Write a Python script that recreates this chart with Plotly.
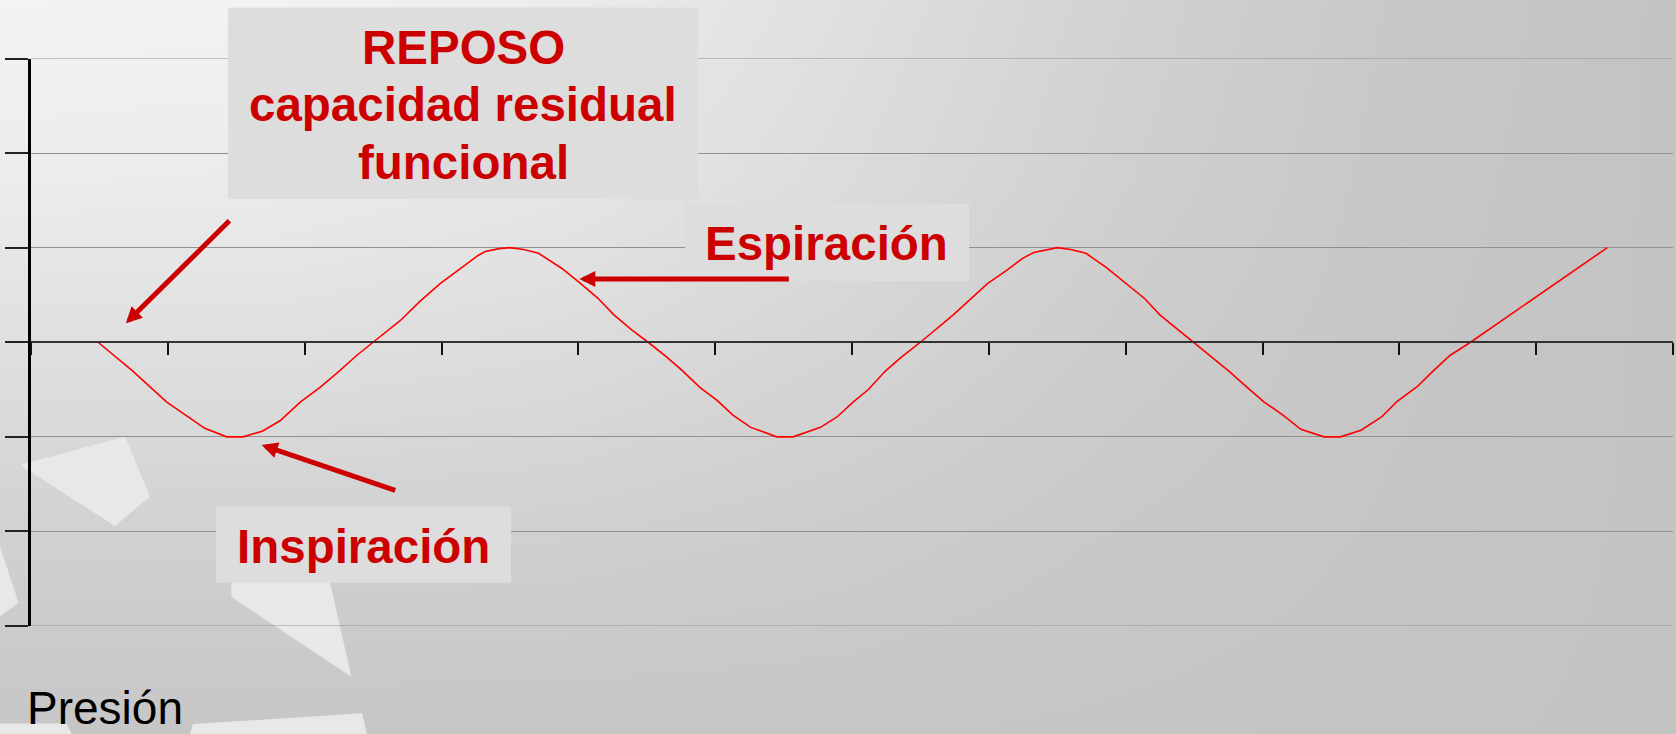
import base64
import struct
import zlib

import numpy as np
import plotly.graph_objects as go

# ---------------------------------------------------------------------------
# Data: breathing curve (pressure oscillation around the resting level)
# ---------------------------------------------------------------------------
t = [0.49, 0.74, 0.99, 1.27, 1.43, 1.55, 1.69, 1.82, 1.97, 2.11, 2.24, 2.38,
     2.50, 2.70, 2.84, 2.99, 3.14, 3.27, 3.32, 3.42, 3.50, 3.60, 3.71, 3.88,
     4.00, 4.14, 4.26, 4.39, 4.51, 4.64, 4.76, 4.89, 5.01, 5.13, 5.26, 5.45,
     5.57, 5.77, 5.89, 6.01, 6.12, 6.24, 6.35, 6.50, 6.74, 6.99, 7.13, 7.25,
     7.33, 7.50, 7.60, 7.71, 7.86, 8.01, 8.14, 8.25, 8.50, 8.75, 8.89, 9.01,
     9.15, 9.28, 9.45, 9.57, 9.72, 9.87, 9.98, 10.13, 10.25, 10.37, 10.52,
     11.52]
presion = [0.00, -0.30, -0.63, -0.91, -1.00, -1.00, -0.94, -0.83, -0.63,
           -0.48, -0.32, -0.14, 0.00, 0.23, 0.43, 0.62, 0.78, 0.92, 0.96,
           0.99, 1.00, 0.98, 0.94, 0.78, 0.64, 0.47, 0.29, 0.13, 0.00, -0.15,
           -0.30, -0.48, -0.61, -0.77, -0.90, -1.00, -1.00, -0.90, -0.79,
           -0.63, -0.50, -0.31, -0.17, 0.00, 0.29, 0.62, 0.76, 0.89, 0.95,
           1.00, 0.98, 0.94, 0.79, 0.61, 0.46, 0.29, 0.00, -0.30, -0.48,
           -0.63, -0.77, -0.92, -1.00, -1.00, -0.93, -0.79, -0.63, -0.47,
           -0.30, -0.14, 0.00, 1.00]

x_ticks = list(range(0, 13))
y_ticks = list(range(-3, 4))
X_RANGE = [0, 12]
Y_RANGE = [-3, 3]

# Labels
titulo_lineas = ["REPOSO", "capacidad residual", "funcional"]
etiqueta_esp = "Espiración"
etiqueta_insp = "Inspiración"
etiqueta_eje = "Presión"

# ---------------------------------------------------------------------------
# Page geometry (pixels)
# ---------------------------------------------------------------------------
W, H = 1676, 734
PX_L, PX_R = 31, 1673          # plot area left/right
PX_T, PX_B = 58.5, 626         # plot area top/bottom


def px(x):
    return x / W


def py(y):
    return 1 - y / H


RED = "#cc0000"
GRID = "#909090"
FONT = "Liberation Sans, Arial, Helvetica, sans-serif"

# ---------------------------------------------------------------------------
# Soft grey backdrop rendered into a small PNG
# ---------------------------------------------------------------------------
BG_XS = [0, 280, 560, 840, 1120, 1400, 1676]
BG_YS = [0, 183, 367, 550, 734]
BG_LEVELS = [
    [243, 242, 236, 224, 210, 200, 195],
    [236, 235, 230, 220, 208, 199, 195],
    [222, 222, 219, 212, 204, 198, 195],
    [208, 208, 207, 204, 200, 197, 195],
    [198, 198, 198, 198, 197, 196, 195],
]


def backdrop_png(w=419, h=184):
    xs = np.linspace(0, W, w)
    ys = np.linspace(0, H, h)
    rows = np.array([np.interp(xs, BG_XS, r) for r in BG_LEVELS])
    img = np.array([np.interp(ys, BG_YS, rows[:, j]) for j in range(w)]).T
    img = np.clip(np.round(img), 0, 255).astype(np.uint8)
    raw = b"".join(b"\x00" + img[i].tobytes() for i in range(h))

    def chunk(tag, data):
        c = struct.pack(">I", len(data)) + tag + data
        return c + struct.pack(">I", zlib.crc32(tag + data) & 0xFFFFFFFF)

    png = (b"\x89PNG\r\n\x1a\n"
           + chunk(b"IHDR", struct.pack(">IIBBBBB", w, h, 8, 0, 0, 0, 0))
           + chunk(b"IDAT", zlib.compress(raw, 9))
           + chunk(b"IEND", b""))
    return "data:image/png;base64," + base64.b64encode(png).decode()


# Light decorative facets in the lower-left corner
facetas = [
    [(20, 465), (125, 436.5), (150, 496.5), (115, 526)],
    [(0, 546.5), (18.5, 602.5), (0, 616.5)],
    [(231, 565), (326, 565), (351.5, 677), (231.5, 597)],
    [(0, 723.5), (66, 723.5), (72, 734), (0, 734)],
    [(193, 724), (362, 713.3), (367, 734), (190, 734)],
]


def path_of(pts):
    return "M " + " L ".join(f"{px(x):.5f},{py(y):.5f}" for x, y in pts) + " Z"


shapes = [
    dict(type="path", xref="paper", yref="paper", path=path_of(p),
         fillcolor="#e8e8e8", line=dict(width=0), layer="below")
    for p in facetas
]

# Gridlines on the outer edges of the value range
for yv in (Y_RANGE[0], Y_RANGE[1]):
    shapes.append(dict(type="line", xref="x", yref="y", x0=X_RANGE[0],
                       x1=X_RANGE[1], y0=yv, y1=yv,
                       line=dict(color=GRID, width=1), layer="below"))

# Label boxes
cajas = [(228, 7.5, 698, 199), (685, 204, 969, 281), (216, 506.5, 511, 582.7)]
for x0, y0, x1, y1 in cajas:
    shapes.append(dict(type="rect", xref="paper", yref="paper",
                       x0=px(x0), x1=px(x1), y0=py(y1), y1=py(y0),
                       fillcolor="#dddddd", line=dict(width=0), layer="above"))

# ---------------------------------------------------------------------------
# Figure
# ---------------------------------------------------------------------------
fig = go.Figure()
fig.add_trace(go.Scatter(x=t, y=presion, mode="lines",
                         line=dict(color="#ff0000", width=1.6),
                         hoverinfo="skip", showlegend=False))

ydom = [py(PX_B), py(PX_T)]

annotations = []
# Title lines in the top box
for texto, yc in zip(titulo_lineas, [47.5, 104.2, 162.8]):
    annotations.append(dict(text=f"<b>{texto}</b>", xref="paper", yref="paper",
                            x=px(463.5), y=py(yc), xanchor="center",
                            yanchor="middle", showarrow=False,
                            font=dict(family=FONT, size=47.5, color=RED)))
annotations.append(dict(text=f"<b>{etiqueta_esp}</b>", xref="paper",
                        yref="paper", x=px(826), y=py(243.5),
                        xanchor="center", yanchor="middle", showarrow=False,
                        font=dict(family=FONT, size=47.5, color=RED)))
annotations.append(dict(text=f"<b>{etiqueta_insp}</b>", xref="paper",
                        yref="paper", x=px(363), y=py(546.8),
                        xanchor="center", yanchor="middle", showarrow=False,
                        font=dict(family=FONT, size=47.5, color=RED)))
annotations.append(dict(text=etiqueta_eje, xref="paper", yref="paper",
                        x=px(104.5), y=py(707.5), xanchor="center",
                        yanchor="middle", showarrow=False,
                        font=dict(family=FONT, size=46, color="#000000")))

# Pointer arrows: tip in data units, tail as pixel offset from the tip
flechas = [
    ((0.6935, 0.2008), (105, -104)),
    ((4.007, 0.669), (211, 0)),
    ((1.686, -1.0856), (135, 46)),
]
for (xt, yt), (dx, dy) in flechas:
    annotations.append(dict(text="", x=xt, y=yt, xref="x", yref="y",
                            ax=dx, ay=dy, axref="pixel", ayref="pixel",
                            showarrow=True, arrowhead=2, arrowsize=0.64,
                            arrowwidth=5, arrowcolor=RED, standoff=0))

fig.update_layout(
    width=W, height=H,
    margin=dict(l=0, r=0, t=0, b=0),
    paper_bgcolor="#cccccc",
    plot_bgcolor="rgba(0,0,0,0)",
    showlegend=False,
    images=[dict(source=backdrop_png(), xref="paper", yref="paper",
                 x=0, y=1, sizex=1, sizey=1, sizing="stretch",
                 xanchor="left", yanchor="top", layer="below")],
    shapes=shapes,
    annotations=annotations,
    xaxis=dict(domain=[px(PX_L), px(PX_R)], range=X_RANGE,
               tickvals=x_ticks, showticklabels=False, showgrid=False,
               zeroline=False, anchor="free",
               position=(ydom[0] + ydom[1]) / 2,
               showline=True, linecolor="#333333", linewidth=2,
               ticks="outside", ticklen=12, tickwidth=2, tickcolor="#111111"),
    yaxis=dict(domain=ydom, range=Y_RANGE, tickvals=y_ticks,
               showticklabels=False, showgrid=True, gridcolor=GRID,
               gridwidth=1, zeroline=False, showline=True,
               linecolor="#000000", linewidth=2.5, ticks="outside",
               ticklen=23, tickwidth=2, tickcolor="#222222"),
)

fig.write_html("out.html")
